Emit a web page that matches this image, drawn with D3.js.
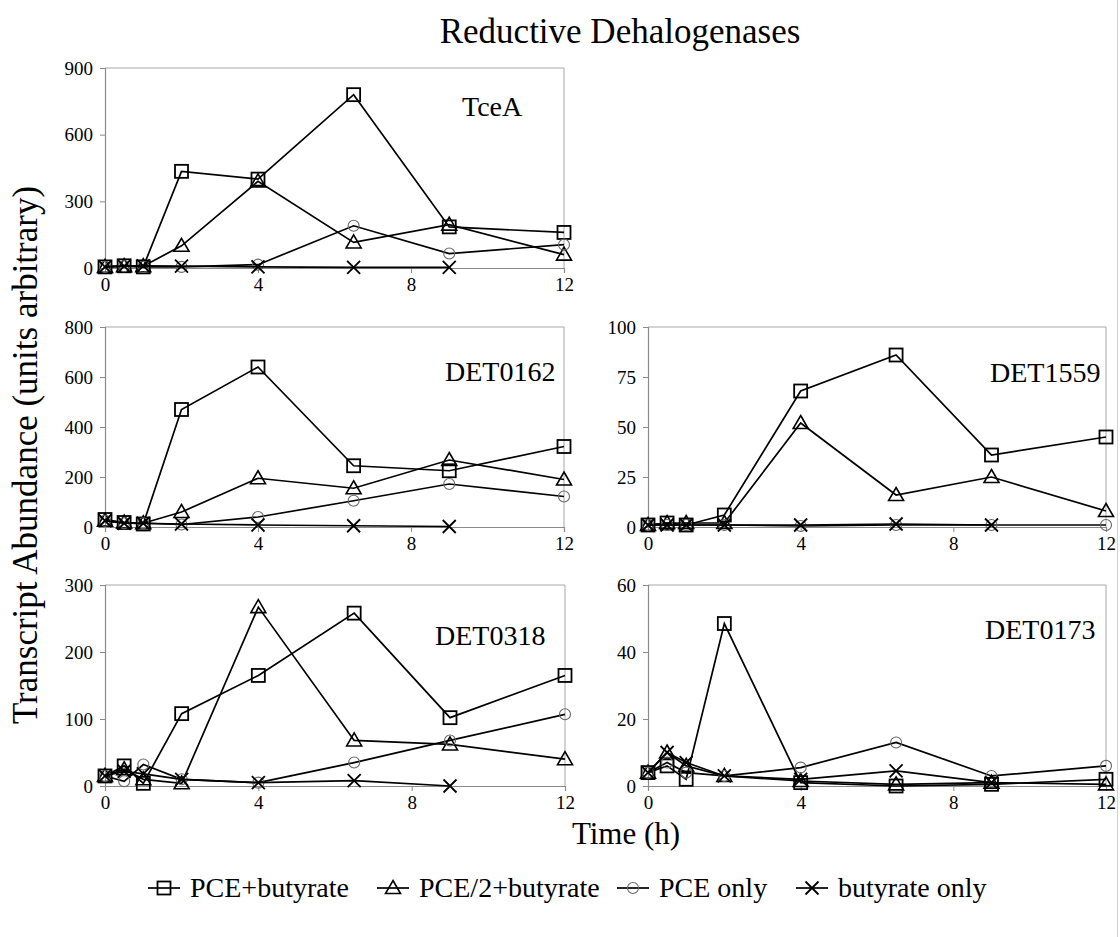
<!DOCTYPE html>
<html>
<head>
<meta charset="utf-8">
<script src="https://cdn.jsdelivr.net/npm/d3@7"></script>
<style>
  body { margin: 0; background: #fff; }
  svg { display: block; }
  text { font-family: "Liberation Serif", "Times New Roman", serif; fill: #000; }
</style>
</head>
<body>
<svg id="chart" width="1120" height="937"></svg>
<script>
// sampling times (h), shared by every panel
const times = [0, 0.5, 1, 2, 4, 6.5, 9, 12];
const seriesLabels = ["PCE+butyrate", "PCE/2+butyrate", "PCE only", "butyrate only"];
const xTicks = [0, 4, 8, 12];

// rows: PCE+butyrate, PCE/2+butyrate, PCE only, butyrate only
const tceaValues = [
  [5, 10, 5, 435, 400, 780, 185, 160],
  [5, 8, 8, 100, 390, 115, 195, 60],
  [5, 8, 5, 5, 15, 190, 65, 105],
  [5, 8, 10, 8, 5, 3, 3, null]
];
const tceaTicks = [0, 300, 600, 900];

const det0162Values = [
  [30, 18, 12, 470, 640, 245, 225, 322],
  [25, 18, 15, 60, 195, 155, 268, 190],
  [25, 15, 15, 10, 40, 105, 172, 122],
  [25, 15, 15, 12, 8, 5, 2, null]
];
const det0162Ticks = [0, 200, 400, 600, 800];

const det1559Values = [
  [1, 2, 1, 6, 68, 86, 36, 45],
  [1, 2, 2, 2, 52, 16, 25, 8],
  [1, 1, 1, 1, 0.5, 1, 1, 1],
  [1, 1, 1, 1, 1, 1.5, 1, null]
];
const det1559Ticks = [0, 25, 50, 75, 100];

const det0318Values = [
  [15, 30, 4, 108, 165, 258, 102, 165],
  [15, 25, 10, 4, 267, 68, 62, 40],
  [15, 7, 32, 10, 5, 35, 68, 107],
  [15, 22, 18, 10, 5, 8, 0, null]
];
const det0318Ticks = [0, 100, 200, 300];

const det0173Values = [
  [4, 6, 2, 48.5, 1, 0, 0.5, 2],
  [4, 10, 6, 3, 1.5, 0.5, 1, 0.5],
  [4, 7, 4, 3, 5.5, 13, 3, 6],
  [4, 10, 7, 3, 2, 4.5, 1, null]
];
const det0173Ticks = [0, 20, 40, 60];

const panels = [
  { name: "TceA",    values: tceaValues,    ticks: tceaTicks,    x0: 105, x1: 564, y0: 268, y1: 68,  lx: 462, ly: 116 },
  { name: "DET0162", values: det0162Values, ticks: det0162Ticks, x0: 105, x1: 564, y0: 527, y1: 327, lx: 445, ly: 381 },
  { name: "DET1559", values: det1559Values, ticks: det1559Ticks, x0: 648, x1: 1106, y0: 527, y1: 327, lx: 990, ly: 382 },
  { name: "DET0318", values: det0318Values, ticks: det0318Ticks, x0: 105, x1: 565, y0: 786, y1: 585, lx: 435, ly: 645 },
  { name: "DET0173", values: det0173Values, ticks: det0173Ticks, x0: 648, x1: 1106, y0: 786, y1: 585, lx: 985, ly: 639 }
];

const svg = d3.select("#chart");

function addText(g, x, y, str, size, anchor) {
  return g.append("text")
    .attr("x", x).attr("y", y)
    .attr("text-anchor", anchor || "start")
    .style("font-size", size + "px")
    .text(str);
}

function drawMarker(g, type, cx, cy) {
  if (type === 0) {
    g.append("rect").attr("x", cx - 6.5).attr("y", cy - 6.5).attr("width", 13).attr("height", 13)
      .attr("fill", "none").attr("stroke", "#000").attr("stroke-width", 1.8);
  } else if (type === 1) {
    g.append("path").attr("d", `M${cx},${cy - 7.5}L${cx + 7.5},${cy + 5.5}L${cx - 7.5},${cy + 5.5}Z`)
      .attr("fill", "none").attr("stroke", "#000").attr("stroke-width", 1.6);
  } else if (type === 2) {
    g.append("circle").attr("cx", cx).attr("cy", cy).attr("r", 5.5)
      .attr("fill", "none").attr("stroke", "#666").attr("stroke-width", 1.1);
  } else {
    g.append("path").attr("d", `M${cx - 6.5},${cy - 6.5}L${cx + 6.5},${cy + 6.5}M${cx + 6.5},${cy - 6.5}L${cx - 6.5},${cy + 6.5}`)
      .attr("fill", "none").attr("stroke", "#000").attr("stroke-width", 1.8);
  }
}

panels.forEach(p => {
  const x = d3.scaleLinear().domain([0, 12]).range([p.x0, p.x1]);
  const y = d3.scaleLinear().domain([0, d3.max(p.ticks)]).range([p.y0, p.y1]);
  const g = svg.append("g").classed("panel", true);

  // plot-area frame
  g.append("path")
    .attr("d", `M${p.x0},${p.y1}H${p.x1}V${p.y0}`)
    .attr("fill", "none").attr("stroke", "#a8a8a8").attr("stroke-width", 1);

  const axX = g.append("g")
    .attr("transform", `translate(0,${p.y0})`)
    .call(d3.axisBottom(x).tickValues(xTicks).tickSize(5).tickPadding(5).tickFormat(d3.format("d")));
  const axY = g.append("g")
    .attr("transform", `translate(${p.x0},0)`)
    .call(d3.axisLeft(y).tickValues(p.ticks).tickSize(5).tickPadding(7).tickFormat(d3.format("d")));

  [axX, axY].forEach(ax => {
    ax.attr("font-family", "Liberation Serif").attr("font-size", 19);
    ax.select(".domain").attr("stroke", "#8a8a8a").attr("stroke-width", 1.2);
    ax.selectAll(".tick line").attr("stroke", "#8a8a8a");
    ax.selectAll(".tick text").attr("fill", "#000");
  });

  const line = d3.line()
    .defined(d => d != null)
    .x((d, i) => x(times[i]))
    .y(d => y(d));

  p.values.forEach((vals, s) => {
    g.append("path")
      .datum(vals)
      .attr("d", line)
      .attr("fill", "none")
      .attr("stroke", "#000")
      .attr("stroke-width", 1.7);
    vals.forEach((v, i) => {
      if (v != null) drawMarker(g, s, x(times[i]), y(v));
    });
  });

  addText(g, p.lx, p.ly, p.name, 28);
});

// titles
addText(svg, 620, 43, "Reductive Dehalogenases", 35, "middle");
addText(svg, 626, 844, "Time (h)", 31, "middle");
svg.append("text")
  .attr("transform", "translate(37,455) rotate(-90)")
  .attr("text-anchor", "middle")
  .style("font-size", "35px")
  .text("Transcript Abundance (units arbitrary)");

// legend
const legendX = [164, 393, 633, 812];
const legend = svg.append("g").classed("legend", true);
seriesLabels.forEach((lab, s) => {
  const cx = legendX[s];
  legend.append("line")
    .attr("x1", cx - 16).attr("x2", cx + 16).attr("y1", 888).attr("y2", 888)
    .attr("stroke", "#000").attr("stroke-width", 1.7);
  drawMarker(legend, s, cx, 888);
  addText(legend, cx + 26, 897, lab, 28);
});

// thin pink edge at the right side of the original scan
svg.append("line")
  .attr("x1", 1117.5).attr("x2", 1117.5).attr("y1", 0).attr("y2", 937)
  .attr("stroke", "#f2c4c4").attr("stroke-width", 1);
</script>
</body>
</html>
